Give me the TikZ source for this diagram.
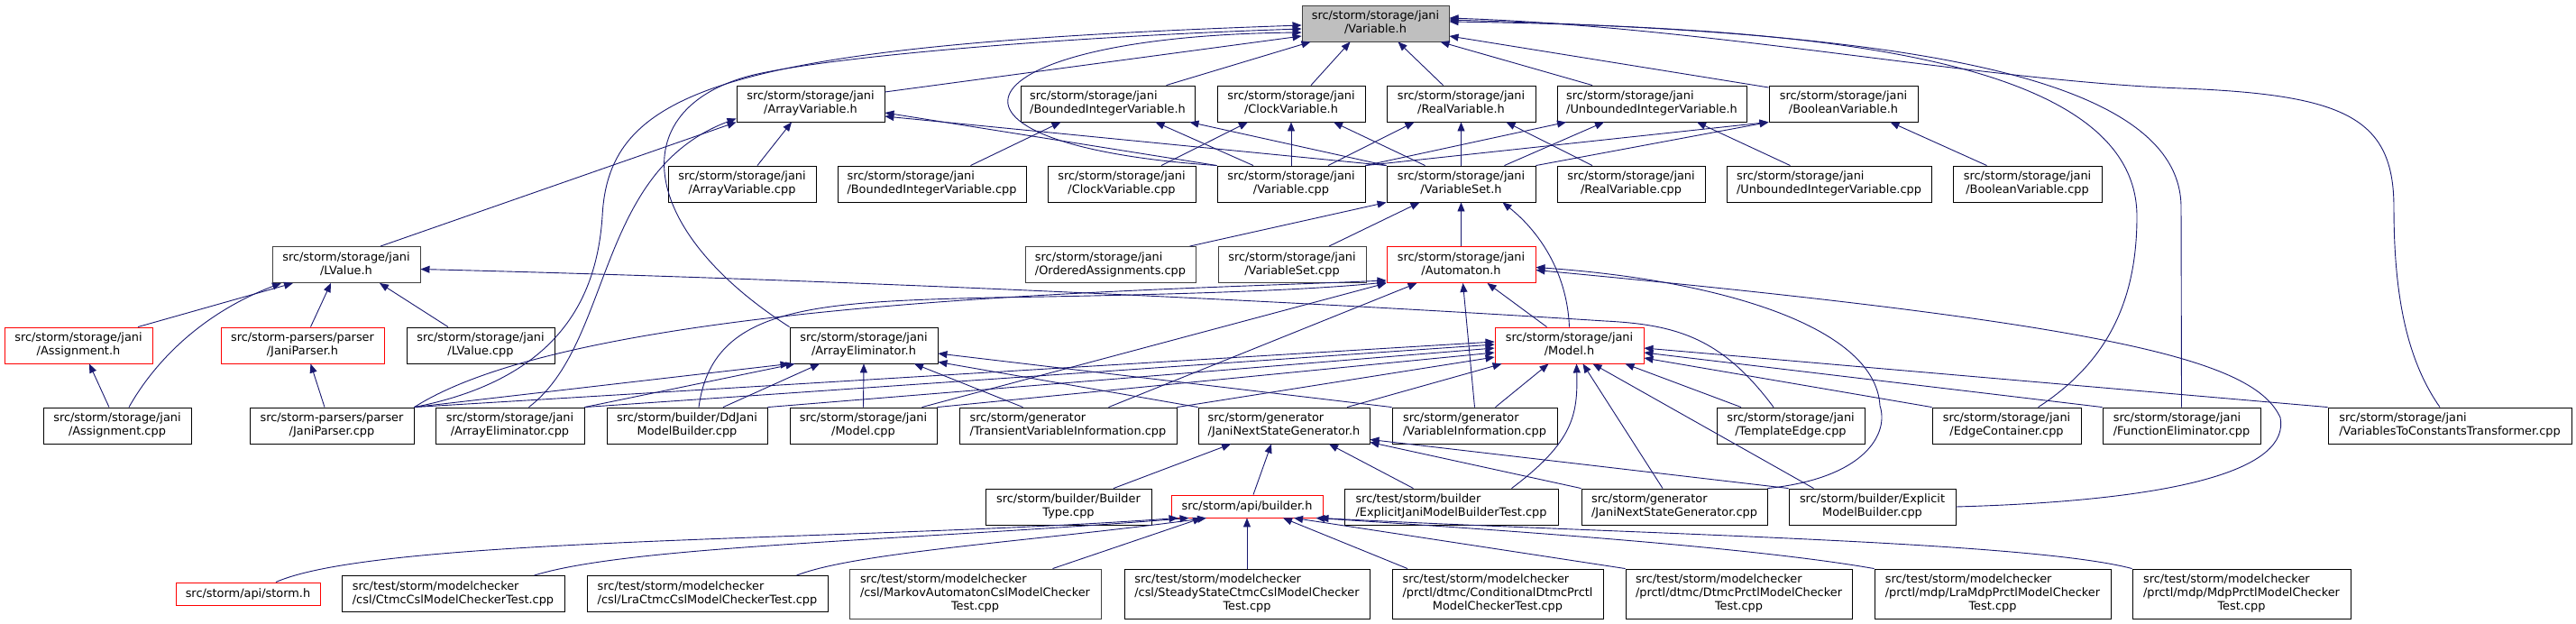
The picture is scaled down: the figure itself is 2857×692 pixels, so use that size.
\documentclass[tikz,border=0pt]{standalone}
\usepackage{fontspec}
\setmainfont{DejaVu Sans}
\usepackage{tikz}
\usetikzlibrary{arrows.meta}
\definecolor{myedge}{RGB}{25,25,112}
\definecolor{myred}{RGB}{255,0,0}
\definecolor{mycur}{RGB}{191,191,191}
\definecolor{mygrey}{RGB}{64,64,64}
\tikzset{
  file/.style={rectangle, draw=black, fill=white, inner xsep=7bp, inner ysep=5bp,
    minimum height=40bp, font=\fontsize{12.9bp}{15bp}\selectfont, line width=0.9bp},
  redfile/.style={file, draw=myred},
  greyfile/.style={file, draw=mygrey},
  curfile/.style={file, draw=mygrey, fill=mycur},
  incl/.style={-{Triangle[length=10bp, width=8bp]}, line width=0.9bp, color=myedge}
}
\newcommand{\twolines}[2]{\begin{tabular}{@{}l@{}}#1\\\multicolumn{1}{@{}c@{}}{#2}\end{tabular}}
\newcommand{\threelines}[3]{\begin{tabular}{@{}l@{}}#1\\#2\\\multicolumn{1}{@{}c@{}}{#3}\end{tabular}}

\begin{document}
\begin{tikzpicture}[x=1bp, y=-1bp]
  \useasboundingbox (0,0) rectangle (2857,692);

  % Included file
  \node[curfile, minimum width=163bp] (var) at (1525.5,26) {\twolines{src/storm/storage/jani}{/Variable.h}};

  % Variable headers
  \node[file, minimum width=164bp] (arrvar) at (899,115) {\twolines{src/storm/storage/jani}{/ArrayVariable.h}};
  \node[file, minimum width=193bp] (bivar) at (1228.5,115) {\twolines{src/storm/storage/jani}{/BoundedIntegerVariable.h}};
  \node[file, minimum width=164bp] (clkvar) at (1432,115) {\twolines{src/storm/storage/jani}{/ClockVariable.h}};
  \node[file, minimum width=165bp] (realvar) at (1620.5,115) {\twolines{src/storm/storage/jani}{/RealVariable.h}};
  \node[file, minimum width=210bp] (ubivar) at (1832,115) {\twolines{src/storm/storage/jani}{/UnboundedIntegerVariable.h}};
  \node[file, minimum width=165bp] (boolvar) at (2044.5,115) {\twolines{src/storm/storage/jani}{/BooleanVariable.h}};

  % Variable sources
  \node[file, minimum width=164bp] (arrvarcpp) at (823,204) {\twolines{src/storm/storage/jani}{/ArrayVariable.cpp}};
  \node[file, minimum width=209bp] (bivarcpp) at (1033.5,204) {\twolines{src/storm/storage/jani}{/BoundedIntegerVariable.cpp}};
  \node[file, minimum width=164bp] (clkvarcpp) at (1244,204) {\twolines{src/storm/storage/jani}{/ClockVariable.cpp}};
  \node[file, minimum width=164bp] (varcpp) at (1432,204) {\twolines{src/storm/storage/jani}{/Variable.cpp}};
  \node[file, minimum width=165bp] (varset) at (1620.5,204) {\twolines{src/storm/storage/jani}{/VariableSet.h}};
  \node[file, minimum width=164bp] (realvarcpp) at (1809,204) {\twolines{src/storm/storage/jani}{/RealVariable.cpp}};
  \node[file, minimum width=227bp] (ubivarcpp) at (2028.5,204) {\twolines{src/storm/storage/jani}{/UnboundedIntegerVariable.cpp}};
  \node[file, minimum width=165bp] (boolvarcpp) at (2248.5,204) {\twolines{src/storm/storage/jani}{/BooleanVariable.cpp}};

  % Third row
  \node[greyfile, minimum width=164bp] (lvalue) at (384,293.5) {\twolines{src/storm/storage/jani}{/LValue.h}};
  \node[greyfile, minimum width=189bp] (ordassign) at (1231.5,293.5) {\twolines{src/storm/storage/jani}{/OrderedAssignments.cpp}};
  \node[greyfile, minimum width=164bp] (varsetcpp) at (1433,293.5) {\twolines{src/storm/storage/jani}{/VariableSet.cpp}};
  \node[redfile, minimum width=165bp] (automaton) at (1620.5,293.5) {\twolines{src/storm/storage/jani}{/Automaton.h}};

  % Fourth row
  \node[redfile, minimum width=164bp] (assign) at (87,383) {\twolines{src/storm/storage/jani}{/Assignment.h}};
  \node[redfile, minimum width=181bp] (janiparserh) at (335.5,383) {\twolines{src/storm-parsers/parser}{/JaniParser.h}};
  \node[file, minimum width=164bp] (lvaluecpp) at (533,383) {\twolines{src/storm/storage/jani}{/LValue.cpp}};
  \node[file, minimum width=164bp] (arrelim) at (958,383) {\twolines{src/storm/storage/jani}{/ArrayEliminator.h}};
  \node[redfile, minimum width=165bp] (model) at (1740.5,383) {\twolines{src/storm/storage/jani}{/Model.h}};

  % Fifth row
  \node[file, minimum width=164bp] (assigncpp) at (130,472) {\twolines{src/storm/storage/jani}{/Assignment.cpp}};
  \node[file, minimum width=182bp] (janiparsercpp) at (368,472) {\twolines{src/storm-parsers/parser}{/JaniParser.cpp}};
  \node[file, minimum width=165bp] (arrelimcpp) at (565.5,472) {\twolines{src/storm/storage/jani}{/ArrayEliminator.cpp}};
  \node[file, minimum width=178bp] (ddjani) at (762,472) {\twolines{src/storm/builder/DdJani}{ModelBuilder.cpp}};
  \node[file, minimum width=163bp] (modelcpp) at (957.5,472) {\twolines{src/storm/storage/jani}{/Model.cpp}};
  \node[file, minimum width=241bp] (transvar) at (1184.5,472) {\twolines{src/storm/generator}{/TransientVariableInformation.cpp}};
  \node[file, minimum width=190bp] (jnsgh) at (1424,472) {\twolines{src/storm/generator}{/JaniNextStateGenerator.h}};
  \node[file, minimum width=183bp] (varinfo) at (1635.5,472) {\twolines{src/storm/generator}{/VariableInformation.cpp}};
  \node[file, minimum width=164bp] (templedge) at (1986,472) {\twolines{src/storm/storage/jani}{/TemplateEdge.cpp}};
  \node[file, minimum width=165bp] (edgecont) at (2225.5,472) {\twolines{src/storm/storage/jani}{/EdgeContainer.cpp}};
  \node[file, minimum width=175bp] (funcelim) at (2419.5,472) {\twolines{src/storm/storage/jani}{/FunctionEliminator.cpp}};
  \node[file, minimum width=270bp] (vtct) at (2717,472) {\twolines{src/storm/storage/jani}{/VariablesToConstantsTransformer.cpp}};

  % Sixth row
  \node[file, minimum width=184bp] (buildertype) at (1185,562) {\twolines{src/storm/builder/Builder}{Type.cpp}};
  \node[redfile, minimum width=168bp, minimum height=25bp] (builderh) at (1383,561.5) {src/storm/api/builder.h};
  \node[file, minimum width=237bp] (ejmbt) at (1609.5,562) {\twolines{src/test/storm/builder}{/ExplicitJaniModelBuilderTest.cpp}};
  \node[file, minimum width=206bp] (jnsgcpp) at (1857,562) {\twolines{src/storm/generator}{/JaniNextStateGenerator.cpp}};
  \node[file, minimum width=185bp] (embcpp) at (2076.5,562) {\twolines{src/storm/builder/Explicit}{ModelBuilder.cpp}};

  % Tests
  \node[redfile, minimum width=160bp, minimum height=25bp] (stormh) at (275,658.5) {src/storm/api/storm.h};
  \node[file, minimum width=247bp] (ctmccsl) at (502.5,658.5) {\twolines{src/test/storm/modelchecker}{/csl/CtmcCslModelCheckerTest.cpp}};
  \node[file, minimum width=267bp] (lractmc) at (784.5,658.5) {\twolines{src/test/storm/modelchecker}{/csl/LraCtmcCslModelCheckerTest.cpp}};
  \node[greyfile, minimum width=279bp] (markov) at (1081.5,658.5) {\threelines{src/test/storm/modelchecker}{/csl/MarkovAutomatonCslModelChecker}{Test.cpp}};
  \node[file, minimum width=272bp] (steady) at (1383,658.5) {\threelines{src/test/storm/modelchecker}{/csl/SteadyStateCtmcCslModelChecker}{Test.cpp}};
  \node[file, minimum width=234bp] (conddtmc) at (1661,658.5) {\threelines{src/test/storm/modelchecker}{/prctl/dtmc/ConditionalDtmcPrctl}{ModelCheckerTest.cpp}};
  \node[file, minimum width=251bp] (dtmcprctl) at (1928.5,658.5) {\threelines{src/test/storm/modelchecker}{/prctl/dtmc/DtmcPrctlModelChecker}{Test.cpp}};
  \node[file, minimum width=262bp] (lramdp) at (2210,658.5) {\threelines{src/test/storm/modelchecker}{/prctl/mdp/LraMdpPrctlModelChecker}{Test.cpp}};
  \node[file, minimum width=242bp] (mdpprctl) at (2486,658.5) {\threelines{src/test/storm/modelchecker}{/prctl/mdp/MdpPrctlModelChecker}{Test.cpp}};

  % Into Variable.h
  \draw[incl] ([yshift=13bp]arrvar.east) -- ([yshift=-14bp]var.west);
  \draw[incl] ([xshift=65bp]bivar.north) -- ([xshift=-72bp]var.south);
  \draw[incl] ([xshift=22bp]clkvar.north) -- ([xshift=-28bp]var.south);
  \draw[incl] ([xshift=-20bp]realvar.north) -- ([xshift=25bp]var.south);
  \draw[incl] ([xshift=-66bp]ubivar.north) -- ([xshift=72bp]var.south);
  \draw[incl] ([yshift=18bp]boolvar.west) -- ([yshift=-14bp]var.east);
  \draw[incl] (varcpp.north west) .. controls (1000,160) and (1060,40) .. ([yshift=-10bp]var.west);
  \draw[incl] (janiparsercpp.north east) .. controls (620,420) and (662,330) .. (668,240)
    .. controls (675,100) and (800,50) .. ([yshift=-2bp]var.west);
  \draw[incl] (arrelim.north west) .. controls (700,250) and (690,110) .. (850,80)
    .. controls (950,60) and (1200,40) .. ([yshift=-6bp]var.west);
  \draw[incl] ([xshift=35bp]edgecont.north) .. controls (2340,400) and (2370,330) .. (2370,240)
    .. controls (2370,60) and (2000,30) .. ([yshift=2bp]var.east);
  \draw[incl] (funcelim.north) -- (2419,230) .. controls (2419,70) and (2050,35) .. ([yshift=4bp]var.east);
  \draw[incl] ([xshift=-11bp]vtct.north) .. controls (2670,400) and (2655,330) .. (2655,230)
    .. controls (2655,130) and (2600,105) .. (2420,98)
    .. controls (2200,90) and (1900,30) .. ([yshift=6bp]var.east);

  % Into ArrayVariable.h
  \draw[incl] ([xshift=17bp]arrvarcpp.north) -- ([xshift=-21bp]arrvar.south);
  \draw[incl] (varcpp.north west) -- ([yshift=-10bp]arrvar.east);
  \draw[incl] (varset.north west) -- ([yshift=-14bp]arrvar.east);
  \draw[incl] ([xshift=38bp]lvalue.north) -- (arrvar.south west);
  \draw[incl] ([xshift=21bp]arrelimcpp.north) .. controls (680,380) and (660,190) .. ([yshift=4bp]arrvar.south west);

  % Into the other variable headers
  \draw[incl] ([xshift=43bp]bivarcpp.north) -- ([xshift=-52bp]bivar.south);
  \draw[incl] ([xshift=-42bp]varcpp.north) -- ([xshift=53bp]bivar.south);
  \draw[incl] (varset.north west) -- ([xshift=-6bp]bivar.south east);
  \draw[incl] ([xshift=44bp]clkvarcpp.north) -- ([xshift=-48bp]clkvar.south);
  \draw[incl] (varcpp.north) -- (clkvar.south);
  \draw[incl] ([xshift=-40bp]varset.north) -- ([xshift=47bp]clkvar.south);
  \draw[incl] ([xshift=41bp]varcpp.north) -- ([xshift=-52bp]realvar.south);
  \draw[incl] (varset.north) -- (realvar.south);
  \draw[incl] ([xshift=-43bp]realvarcpp.north) -- ([xshift=50bp]realvar.south);
  \draw[incl] (varcpp.north east) -- ([xshift=-95bp]ubivar.south);
  \draw[incl] ([xshift=48bp]varset.north) -- ([xshift=-53bp]ubivar.south);
  \draw[incl] ([xshift=-43bp]ubivarcpp.north) -- ([xshift=50bp]ubivar.south);
  \draw[incl] (varcpp.north east) -- (boolvar.south west);
  \draw[incl] (varset.north east) -- (boolvar.south west);
  \draw[incl] ([xshift=-45bp]boolvarcpp.north) -- ([xshift=52bp]boolvar.south);

  % Into VariableSet.h
  \draw[incl] ([xshift=88bp]ordassign.north) -- (varset.south west);
  \draw[incl] ([xshift=41bp]varsetcpp.north) -- ([xshift=-46bp]varset.south);
  \draw[incl] (automaton.north) -- (varset.south);
  \draw[incl] (model.north) .. controls (1738,300) and (1705,255) .. ([xshift=46bp]varset.south);

  % Into LValue.h, Assignment.h, JaniParser.h
  \draw[incl] ([xshift=66bp]assign.north) -- ([xshift=-59bp]lvalue.south);
  \draw[incl] ([xshift=13bp]assigncpp.north) .. controls (175,395) and (230,345) .. ([xshift=-72bp]lvalue.south);
  \draw[incl] ([xshift=9bp]janiparserh.north) -- ([xshift=-17bp]lvalue.south);
  \draw[incl] ([xshift=-36bp]lvaluecpp.north) -- ([xshift=37bp]lvalue.south);
  \draw[incl] ([xshift=-19bp]templedge.north) .. controls (1910,375) and (1860,360) .. (1780,356)
    .. controls (1500,338) and (1000,312) .. ([yshift=-5bp]lvalue.east);
  \draw[incl] ([xshift=-9bp]assigncpp.north) -- ([xshift=12bp]assign.south);
  \draw[incl] ([xshift=-8bp]janiparsercpp.north) -- ([xshift=9bp]janiparserh.south);

  % Into Automaton.h
  \draw[incl] ([xshift=-25bp]model.north) -- ([xshift=29bp]automaton.south);
  \draw[incl] (varinfo.north) -- ([xshift=2bp]automaton.south);
  \draw[incl] ([xshift=45bp]transvar.north) -- ([xshift=-49bp]automaton.south);
  \draw[incl] ([xshift=65bp]modelcpp.north) -- (automaton.south west);
  \draw[incl] (janiparsercpp.north east) .. controls (650,330) and (1300,322) .. ([yshift=3bp]automaton.south west);
  \draw[incl] ([xshift=13bp]ddjani.north) .. controls (790,340) and (900,335) .. (1100,330)
    .. controls (1300,327) and (1450,322) .. ([yshift=1bp]automaton.south west);
  \draw[incl] (jnsgcpp.north east) .. controls (2070,530) and (2095,480) .. (2085,450)
    .. controls (2080,360) and (1900,310) .. ([yshift=-3bp]automaton.east);
  \draw[incl] (embcpp.east) .. controls (2420,555) and (2540,520) .. (2529,463)
    .. controls (2500,400) and (2350,360) .. ([yshift=-6bp]automaton.east);

  % Into Model.h
  \draw[incl] ([xshift=70bp]jnsgh.north) -- ([xshift=8bp]model.south west);
  \draw[incl] (transvar.north east) -- ([yshift=-13bp]model.west);
  \draw[incl] (modelcpp.north east) -- ([yshift=-8bp]model.west);
  \draw[incl] (ddjani.north east) -- ([yshift=-3bp]model.west);
  \draw[incl] (arrelimcpp.north east) -- ([yshift=1bp]model.west);
  \draw[incl] (janiparsercpp.north east) -- ([yshift=4bp]model.west);
  \draw[incl] ([xshift=23bp]varinfo.north) -- ([xshift=-23bp]model.south);
  \draw[incl] ([xshift=67bp]ejmbt.north) .. controls (1745,490) and (1750,460) .. ([xshift=8bp]model.south);
  \draw[incl] ([xshift=-13bp]jnsgcpp.north) -- ([xshift=15bp]model.south);
  \draw[incl] ([xshift=-65bp]embcpp.north) -- ([xshift=26bp]model.south);
  \draw[incl] ([xshift=-55bp]templedge.north) -- ([xshift=62bp]model.south);
  \draw[incl] (edgecont.north west) -- ([yshift=-14bp]model.east);
  \draw[incl] (funcelim.north west) -- ([yshift=-8bp]model.east);
  \draw[incl] (vtct.north west) -- ([yshift=-3bp]model.east);

  % Into ArrayEliminator.h
  \draw[incl] (janiparsercpp.north east) -- (arrelim.south west);
  \draw[incl] (arrelimcpp.north east) -- ([xshift=6bp]arrelim.south west);
  \draw[incl] ([xshift=40bp]ddjani.north) -- ([xshift=-49bp]arrelim.south);
  \draw[incl] (modelcpp.north) -- (arrelim.south);
  \draw[incl] ([xshift=-50bp]transvar.north) -- ([xshift=56bp]arrelim.south);
  \draw[incl] (jnsgh.north west) -- ([yshift=2bp]arrelim.south east);
  \draw[incl] (varinfo.north west) -- ([yshift=-9bp]arrelim.east);

  % Into JaniNextStateGenerator.h
  \draw[incl] ([xshift=50bp]buildertype.north) -- ([xshift=-59bp]jnsgh.south);
  \draw[incl] ([xshift=7bp]builderh.north) -- ([xshift=-14bp]jnsgh.south);
  \draw[incl] ([xshift=-42bp]ejmbt.north) -- ([xshift=50bp]jnsgh.south);
  \draw[incl] (jnsgcpp.north west) -- ([yshift=2bp]jnsgh.south east);
  \draw[incl] (embcpp.north west) -- ([yshift=5bp]jnsgh.south east);

  % Into builder.h
  \draw[incl] ([xshift=31bp]stormh.north) .. controls (420,595) and (950,600) .. ([xshift=8bp]builderh.south west);
  \draw[incl] ([xshift=90bp]ctmccsl.north) .. controls (700,605) and (1000,600) .. ([xshift=20bp]builderh.south west);
  \draw[incl] ([xshift=99bp]lractmc.north) .. controls (950,612) and (1150,600) .. ([xshift=-45bp]builderh.south);
  \draw[incl] ([xshift=86bp]markov.north) -- ([xshift=-50bp]builderh.south);
  \draw[incl] (steady.north) -- (builderh.south);
  \draw[incl] ([xshift=-100bp]conddtmc.north) -- ([xshift=40bp]builderh.south);
  \draw[incl] (dtmcprctl.north west) -- ([xshift=52bp]builderh.south);
  \draw[incl] (lramdp.north west) .. controls (1950,608) and (1700,590) .. ([xshift=-8bp]builderh.south east);
  \draw[incl] (mdpprctl.north west) .. controls (2250,600) and (1800,592) .. ([xshift=-4bp]builderh.south east);
\end{tikzpicture}
\end{document}
